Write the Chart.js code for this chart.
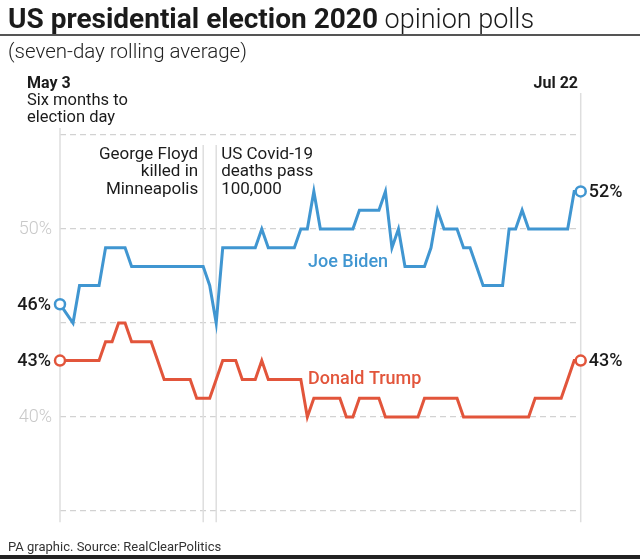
<!DOCTYPE html>
<html>
<head>
<meta charset="utf-8">
<script src="https://cdn.jsdelivr.net/npm/chart.js@4.4.1/dist/chart.umd.min.js"></script>
<style>
  html, body { margin: 0; padding: 0; background: #fff; }
  #wrap { width: 640px; height: 559px; position: relative; }
</style>
</head>
<body>
<div id="wrap"><canvas id="c" width="640" height="559"></canvas></div>
<script>
// ---- Data ----
const startDate = new Date(2020, 4, 3); // May 3
const dayCount = 81;                     // May 3 .. Jul 22
const monthNames = ['Jan','Feb','Mar','Apr','May','Jun','Jul','Aug','Sep','Oct','Nov','Dec'];
const dates = [];
for (let i = 0; i < dayCount; i++) {
  const d = new Date(startDate.getTime());
  d.setDate(d.getDate() + i);
  dates.push(monthNames[d.getMonth()] + ' ' + d.getDate());
}

const bidenValues = [
  46, 45.5, 45, 47, 47, 47, 47, 49, 49, 49,
  49, 48, 48, 48, 48, 48, 48, 48, 48, 48,
  48, 48, 48, 47, 45, 49, 49, 49, 49, 49,
  49, 50, 49, 49, 49, 49, 49, 50, 50, 52,
  50, 50, 50, 50, 50, 50, 51, 51, 51, 51,
  52, 49, 50, 48, 48, 48, 48, 49, 51, 50,
  50, 50, 49, 49, 48, 47, 47, 47, 47, 50,
  50, 51, 50, 50, 50, 50, 50, 50, 50, 52,
  52
];
const trumpValues = [
  43, 43, 43, 43, 43, 43, 43, 44, 44, 45,
  45, 44, 44, 44, 44, 43, 42, 42, 42, 42,
  42, 41, 41, 41, 42, 43, 43, 43, 42, 42,
  42, 43, 42, 42, 42, 42, 42, 42, 40, 41,
  41, 41, 41, 41, 40, 40, 41, 41, 41, 41,
  40, 40, 40, 40, 40, 40, 41, 41, 41, 41,
  41, 41, 40, 40, 40, 40, 40, 40, 40, 40,
  40, 40, 40, 41, 41, 41, 41, 41, 42, 43,
  43
];
const yTicks = [35, 40, 45, 50, 55];
const yLabelled = [40, 50];
const events = [
  { date: 'May 25', lines: ['George Floyd', 'killed in', 'Minneapolis'], align: 'right' },
  { date: 'May 27', lines: ['US Covid-19', 'deaths pass', '100,000'], align: 'left' }
];

// ---- Styles ----
const BLUE = '#4096d1';
const RED = '#e2553b';
const FONT = 'Roboto, "Liberation Sans", sans-serif';

const lastIdx = dayCount - 1;
function endRadius(n) { const r = []; for (let i = 0; i < n; i++) r.push(i === 0 || i === n - 1 ? 5 : 0); return r; }

const annot = {
  id: 'annot',
  beforeDatasetsDraw(chart) {
    const { ctx, scales: { x }, chartArea } = chart;
    ctx.save();
    ctx.strokeStyle = '#dedede';
    ctx.lineWidth = 1.5;
    const vlines = [[0, 128], [lastIdx, 93]];
    events.forEach(e => vlines.push([dates.indexOf(e.date), 145]));
    vlines.forEach(([i, top]) => {
      const px = x.getPixelForValue(i);
      ctx.beginPath();
      ctx.moveTo(px, top);
      ctx.lineTo(px, chartArea.bottom);
      ctx.stroke();
    });
    ctx.restore();
  },
  afterDraw(chart) {
    const { ctx, scales: { x, y } } = chart;
    ctx.save();
    ctx.textBaseline = 'alphabetic';
    // Title
    ctx.fillStyle = '#1b1b1b';
    ctx.font = 'bold 28px ' + FONT;
    ctx.textAlign = 'left';
    const t1 = 'US presidential election 2020';
    ctx.fillText(t1, 8, 28);
    const w1 = ctx.measureText(t1).width;
    ctx.font = '300 27px ' + FONT;
    ctx.fillText(' opinion polls', 8 + w1, 28);
    // rule
    ctx.fillStyle = '#555';
    ctx.fillRect(0, 34, 640, 2);
    // subtitle
    ctx.fillStyle = '#222';
    ctx.font = '300 20.5px ' + FONT;
    ctx.fillText('(seven-day rolling average)', 8, 58);

    // start / end headers
    ctx.font = 'bold 16px ' + FONT;
    ctx.fillStyle = '#1b1b1b';
    ctx.fillText('May 3', 27, 88);
    ctx.font = '16.5px ' + FONT;
    ctx.fillText('Six months to', 27, 105);
    ctx.fillText('election day', 27, 122);
    ctx.font = 'bold 16px ' + FONT;
    ctx.textAlign = 'right';
    ctx.fillText('Jul 22', 578, 88);

    // event annotations
    ctx.font = '17px ' + FONT;
    events.forEach(e => {
      const px = x.getPixelForValue(dates.indexOf(e.date));
      ctx.textAlign = e.align;
      const tx = e.align === 'right' ? px - 5 : px + 5;
      e.lines.forEach((l, k) => ctx.fillText(l, tx, 159 + k * 17.3));
    });

    // series names
    ctx.textAlign = 'left';
    ctx.textBaseline = 'middle';
    ctx.font = '500 18px ' + FONT;
    ctx.fillStyle = BLUE;
    ctx.fillText('Joe Biden', 308, y.getPixelForValue(48.2));
    ctx.fillStyle = RED;
    ctx.fillText('Donald Trump', 308, y.getPixelForValue(42.0));

    // end value labels
    ctx.font = '500 18px ' + FONT;
    ctx.fillStyle = '#1b1b1b';
    chart.data.datasets.forEach((ds, di) => {
      const meta = chart.getDatasetMeta(di);
      const p0 = meta.data[0], p1 = meta.data[meta.data.length - 1];
      ctx.textAlign = 'right';
      ctx.fillText(Math.round(ds.data[0]) + '%', p0.x - 9, p0.y + 1);
      ctx.textAlign = 'left';
      ctx.fillText(Math.round(ds.data[ds.data.length - 1]) + '%', p1.x + 8, p1.y + 1);
    });

    // footer
    ctx.textBaseline = 'alphabetic';
    ctx.textAlign = 'left';
    ctx.font = '13px ' + FONT;
    ctx.fillStyle = '#333';
    ctx.fillText('PA graphic. Source: RealClearPolitics', 8, 551);
    ctx.fillStyle = '#222';
    ctx.fillRect(0, 555, 640, 4);
    ctx.restore();
  }
};

new Chart(document.getElementById('c'), {
  type: 'line',
  data: {
    labels: dates,
    datasets: [
      {
        label: 'Joe Biden', data: bidenValues,
        borderColor: BLUE, borderWidth: 3, tension: 0,
        pointRadius: endRadius(dayCount), pointBackgroundColor: '#fff',
        pointBorderColor: BLUE, pointBorderWidth: 2.5, pointHoverRadius: 0,
        borderJoinStyle: 'miter', clip: false
      },
      {
        label: 'Donald Trump', data: trumpValues,
        borderColor: RED, borderWidth: 3, tension: 0,
        pointRadius: endRadius(dayCount), pointBackgroundColor: '#fff',
        pointBorderColor: RED, pointBorderWidth: 2.5, pointHoverRadius: 0,
        borderJoinStyle: 'miter', clip: false
      }
    ]
  },
  options: {
    responsive: false,
    animation: false,
    events: [],
    layout: { padding: { left: 0, right: 59.3, top: 135, bottom: 36.7 } },
    plugins: { legend: { display: false }, tooltip: { enabled: false }, title: { display: false } },
    scales: {
      x: { type: 'category', display: false, offset: false },
      y: {
        min: 34.4, max: 55,
        afterFit(scale) { scale.width = 60; },
        afterBuildTicks(scale) { scale.ticks = yTicks.map(v => ({ value: v })); },
        border: { display: false, dash: [6, 4] },
        grid: { color: '#d2d2d2', lineWidth: 1.2, drawTicks: false },
        ticks: {
          padding: 8,
          color: '#c9c9c9',
          font: { family: FONT, size: 18, weight: '300' },
          callback: v => yLabelled.includes(v) ? v + '%' : ''
        }
      }
    }
  },
  plugins: [annot]
});
</script>
</body>
</html>
